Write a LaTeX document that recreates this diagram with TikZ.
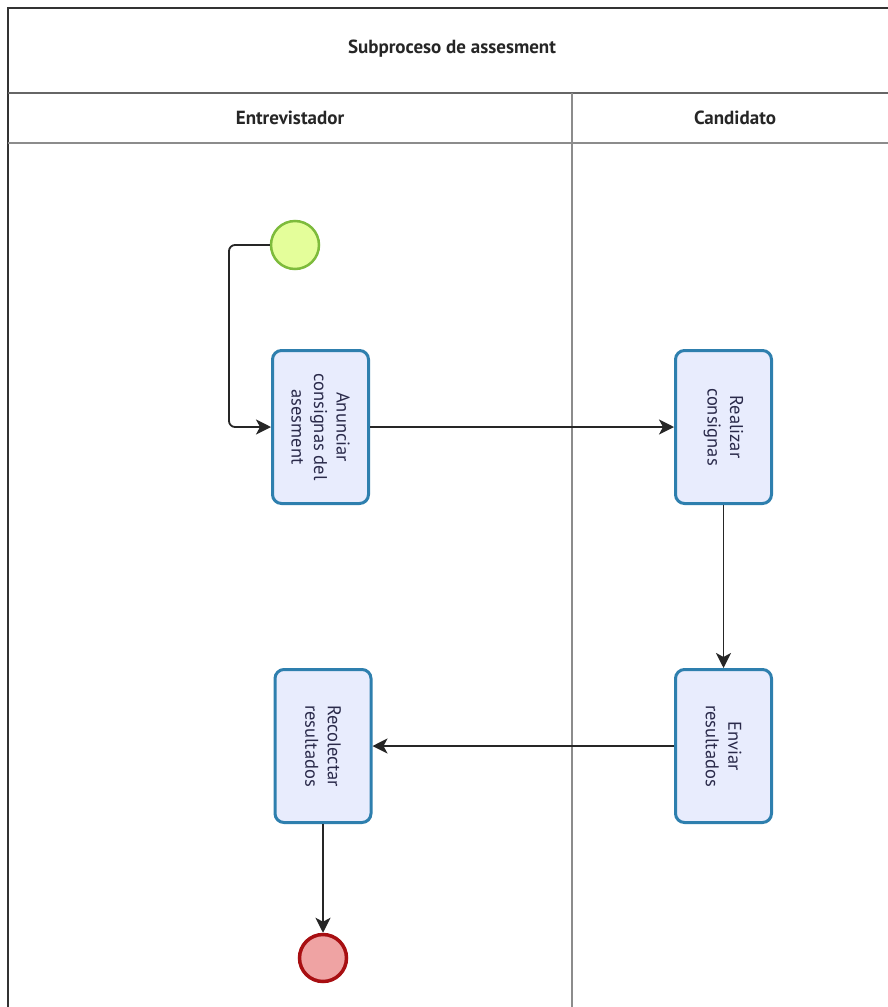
\documentclass[tikz,border=0pt]{standalone}
\usepackage{fontspec}
\setmainfont{PT Sans}
\usetikzlibrary{arrows.meta}
\definecolor{taskfill}{HTML}{E8ECFD}
\definecolor{taskdraw}{HTML}{2E7FAE}
\definecolor{startfill}{HTML}{E4FE9A}
\definecolor{startdraw}{HTML}{7DBB3C}
\definecolor{endfill}{HTML}{EFA3A3}
\definecolor{enddraw}{HTML}{A80F12}
\definecolor{lanegray}{HTML}{8C8C8C}
\definecolor{txt}{HTML}{2A2A4A}
\tikzset{
  taskbox/.style={draw=taskdraw, fill=taskfill, line width=3pt, rounded corners=9pt,
    minimum width=96pt, minimum height=153pt, inner sep=0pt},
  tasktext/.style={rotate=-90, align=center, font=\fontsize{18.5}{22.5}\selectfont, text=txt},
  startev/.style={circle, draw=startdraw, fill=startfill, line width=2.5pt, minimum size=48pt, inner sep=0pt},
  endev/.style={circle, draw=enddraw, fill=endfill, line width=3.5pt, minimum size=47pt, inner sep=0pt},
  flow/.style={draw=black!85, line width=1.8pt, -{Stealth[length=15pt,width=15pt,inset=4pt]}},
  hdr/.style={font=\bfseries\fontsize{19}{22}\selectfont, text=black!85},
}
\begin{document}
\begin{tikzpicture}[x=1pt,y=-1pt]
\useasboundingbox (0,0) rectangle (888,1007);
\begin{scope}
\clip (0,0) rectangle (888,1007);
% pool frame
\draw[black!80, line width=1.5pt] (898,8) -- (8,8) -- (8,1010);
\draw[black!60, line width=1.5pt] (8,93) -- (898,93);
\draw[lanegray, line width=2pt] (8,143) -- (898,143);
\draw[lanegray, line width=1.5pt] (572,93) -- (572,1010);
\end{scope}
\node[hdr] (title) at (452,49) {Subproceso de assesment};
\node[hdr] (lane1) at (290,118) {Entrevistador};
\node[hdr] (lane2) at (735,118) {Candidato};
% events
\node[startev] (start) at (295,245) {};
\node[endev] (end) at (323,958) {};
% tasks
\node[taskbox] (t1) at (320.5,427) {};
\node[tasktext] at (t1.center) {Anunciar\\consignas del\\asesment};
\node[taskbox] (t2) at (723.5,427) {};
\node[tasktext] at (t2.center) {Realizar\\consignas};
\node[taskbox] (t3) at (723.5,746) {};
\node[tasktext] at (t3.center) {Enviar\\resultados};
\node[taskbox] (t4) at (323,746) {};
\node[tasktext] at (t4.center) {Recolectar\\resultados};
% flows
\draw[flow, rounded corners=6pt] (start.west) -- (229,245) -- (229,427) -- (t1.west);
\draw[flow] (t1.east) -- (t2.west);
\draw[flow] (t2.south) -- (t3.north);
\draw[flow] (t3.west) -- (t4.east);
\draw[flow] (t4.south) -- (end.north);
\end{tikzpicture}
\end{document}
